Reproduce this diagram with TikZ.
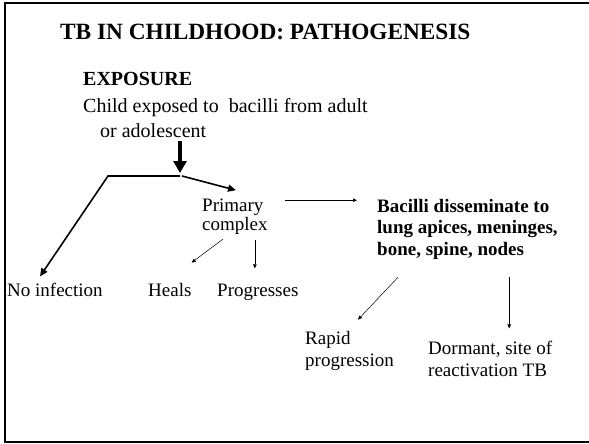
\documentclass[tikz,border=0pt]{standalone}
\usepackage{fontspec}
\setmainfont{Liberation Serif}
\usetikzlibrary{arrows.meta}

\begin{document}
\begin{tikzpicture}[x=1pt, y=-1pt,
    every node/.style={inner sep=0pt, anchor=base west, align=left},
    flow/.style={font=\fontsize{19}{22}\selectfont},
    flowbold/.style={font=\bfseries\fontsize{19}{21.5}\selectfont},
    thinarrow/.style={-{Triangle[length=4pt, width=3.5pt]}, line width=0.5pt},
    midarrow/.style={-{Triangle[length=8pt, width=7pt]}, line width=1.6pt},
    bigarrow/.style={-{Triangle[length=12pt, width=13pt]}, line width=3.5pt}
  ]
  \useasboundingbox (0,0) rectangle (589,444);
  \draw[line width=2pt] (589,3) -- (5,3) -- (5,442) -- (589,442);

  % multi-line nodes sit on the baseline of their last line
  \node[font=\bfseries\fontsize{23.3}{26}\selectfont] (title) at (60,40) {TB IN CHILDHOOD: PATHOGENESIS};
  \node[font=\bfseries\fontsize{20}{22}\selectfont] (exposure) at (83,85) {EXPOSURE};
  \node[font=\fontsize{20}{25}\selectfont] (child) at (83,137) {Child exposed to\ \ bacilli from adult\\\hspace{17pt}or adolescent};

  \node[flow] (primary) at (202,230) {Primary\\[-3pt]complex};
  \node[flowbold] (bacilli) at (377,255) {Bacilli disseminate to\\lung apices, meninges,\\bone, spine, nodes};
  \node[flow] (noinf) at (7,296) {No infection};
  \node[flow] (heals) at (148,296) {Heals};
  \node[flow] (progresses) at (217,296) {Progresses};
  \node[flow] (rapid) at (305,366) {Rapid\\progression};
  \node[flow] (dormant) at (428,376) {Dormant, site of\\reactivation TB};

  % exposure splits
  \coordinate (split) at (180,176);
  \draw[bigarrow] ([yshift=-4pt]child.south -| split) -- ([shift={(0,-3)}]split);
  \draw[midarrow] (split) -- ++(-72,0) -- ([shift={(33,-6)}]noinf.north west);
  \draw[midarrow] ([shift={(2,0)}]split) -- ([shift={(34,-8)}]primary.north west);

  % from primary complex
  \draw[thinarrow, shorten >=20pt] ([shift={(17,2)}]primary.north east) coordinate (pb) -- (pb -| bacilli.west);
  \draw[thinarrow] ([shift={(-45,5)}]primary.south east) -- ([shift={(0,-20)}]heals.north east);
  \draw[thinarrow] ([shift={(-3,-43)}]progresses.north) -- ([shift={(-3,-15)}]progresses.north);

  % from bacilli
  \draw[thinarrow] ([shift={(21,18)}]bacilli.south west) -- ([shift={(53,-11)}]rapid.north west);
  \draw[thinarrow] ([shift={(19,-63)}]dormant.north) -- ([shift={(19,-12)}]dormant.north);
\end{tikzpicture}
\end{document}
